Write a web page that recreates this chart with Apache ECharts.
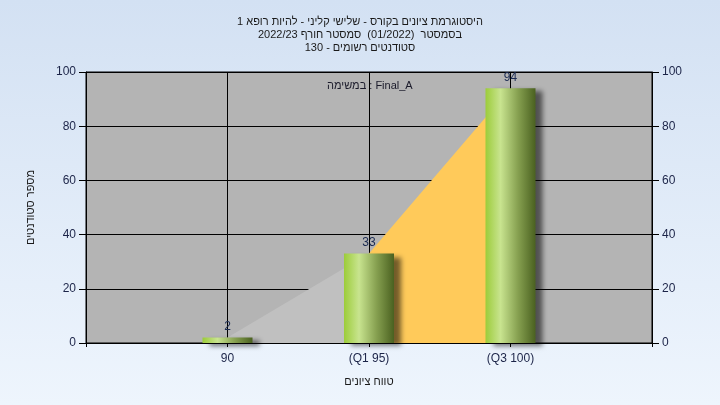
<!DOCTYPE html>
<html><head><meta charset="utf-8">
<script src="https://cdn.jsdelivr.net/npm/echarts@6/dist/echarts.min.js"></script>
<style>html,body{margin:0;padding:0;background:#e4eefa;}#c{width:720px;height:405px;}</style>
</head><body><div id="c"></div>
<script>
const titleLines = [
  'היסטוגרמת ציונים בקורס - שלישי קליני - להיות רופא 1',
  'בסמסטר  (01/2022)  סמסטר חורף 2022/23',
  'סטודנטים רשומים - 130'
];
const categories = ['', '90', '(Q1 95)', '(Q3 100)', ''];
const counts = [null, 2, 33, 94, null];
const lowerArea = [null, 2, 33, null, null];
const iqrArea = [null, null, 33, 94, null];
const yMin = 0, yMax = 100, yStep = 20;
const taskLabel = 'במשימה : Final_A';
const xName = 'טווח ציונים';
const yName = 'מספר סטודנטים';

const FONT = '"Liberation Sans", "DejaVu Sans", Arial, sans-serif';
const chart = echarts.init(document.getElementById('c'), null, {renderer: 'canvas'});
const axisCommon = {
  type: 'value', min: yMin, max: yMax, interval: yStep,
  axisLine: {show: true, lineStyle: {color: '#000', width: 1}},
  axisTick: {show: true, length: 7, lineStyle: {color: '#000'}},
  axisLabel: {color: '#1c2448', fontSize: 12, fontFamily: FONT, margin: 10}
};
chart.setOption({
  backgroundColor: new echarts.graphic.LinearGradient(0, 0, 0, 1, [
    {offset: 0, color: '#d3e1f3'}, {offset: 1, color: '#eef5fd'}
  ]),
  animation: false,
  title: {
    text: titleLines.join('\n'), left: 'center', top: 10,
    textStyle: {fontSize: 11, lineHeight: 13, fontWeight: 'normal', color: '#1a1a1a', fontFamily: FONT}
  },
  grid: {left: 86, right: 68, top: 72, bottom: 62, show: true,
    backgroundColor: '#b4b4b4', borderColor: '#000', borderWidth: 1},
  xAxis: {
    type: 'category', data: categories, boundaryGap: false,
    axisLine: {show: true, lineStyle: {color: '#000'}},
    axisTick: {show: true, interval: 0, length: 4, lineStyle: {color: '#000'}},
    axisLabel: {interval: 0, color: '#1c2448', fontSize: 12, fontFamily: FONT, margin: 10},
    splitLine: {show: true, interval: 0, lineStyle: {color: '#000', width: 1}},
    name: xName, nameLocation: 'middle', nameGap: 33,
    nameTextStyle: {color: '#1a1a1a', fontSize: 11, fontFamily: FONT}
  },
  yAxis: [
    Object.assign({}, axisCommon, {
      position: 'left',
      splitLine: {show: true, lineStyle: {color: '#000', width: 1}},
      name: yName, nameLocation: 'middle', nameRotate: 90, nameGap: 50,
      nameTextStyle: {color: '#1a1a1a', fontSize: 11, fontFamily: FONT}
    }),
    Object.assign({}, axisCommon, {position: 'right', splitLine: {show: false}})
  ],
  graphic: [{
    type: 'text', left: 327, top: 80, z: 10,
    style: {text: taskLabel, fill: '#1a1a2a', font: '11px ' + FONT}
  }],
  series: [
    {type: 'line', data: lowerArea, symbol: 'none', z: 2, silent: true,
      lineStyle: {width: 0}, areaStyle: {color: '#c0c0c0', opacity: 1}},
    {type: 'line', data: iqrArea, symbol: 'none', z: 2, silent: true,
      lineStyle: {width: 0}, areaStyle: {color: '#ffca5a', opacity: 1}},
    {type: 'bar', data: counts, barWidth: 50, z: 3,
      itemStyle: {
        color: new echarts.graphic.LinearGradient(0, 0, 1, 0, [
          {offset: 0, color: '#9ccc3a'}, {offset: 0.3, color: '#c8e48f'},
          {offset: 0.65, color: '#86a050'}, {offset: 1, color: '#4a6120'}
        ]),
        shadowColor: 'rgba(0,0,0,0.55)', shadowBlur: 5, shadowOffsetX: 7, shadowOffsetY: 3
      },
      label: {show: true, position: 'top', distance: 5, color: '#1a2a52', fontSize: 12, fontFamily: FONT}
    }
  ]
});
</script></body></html>
